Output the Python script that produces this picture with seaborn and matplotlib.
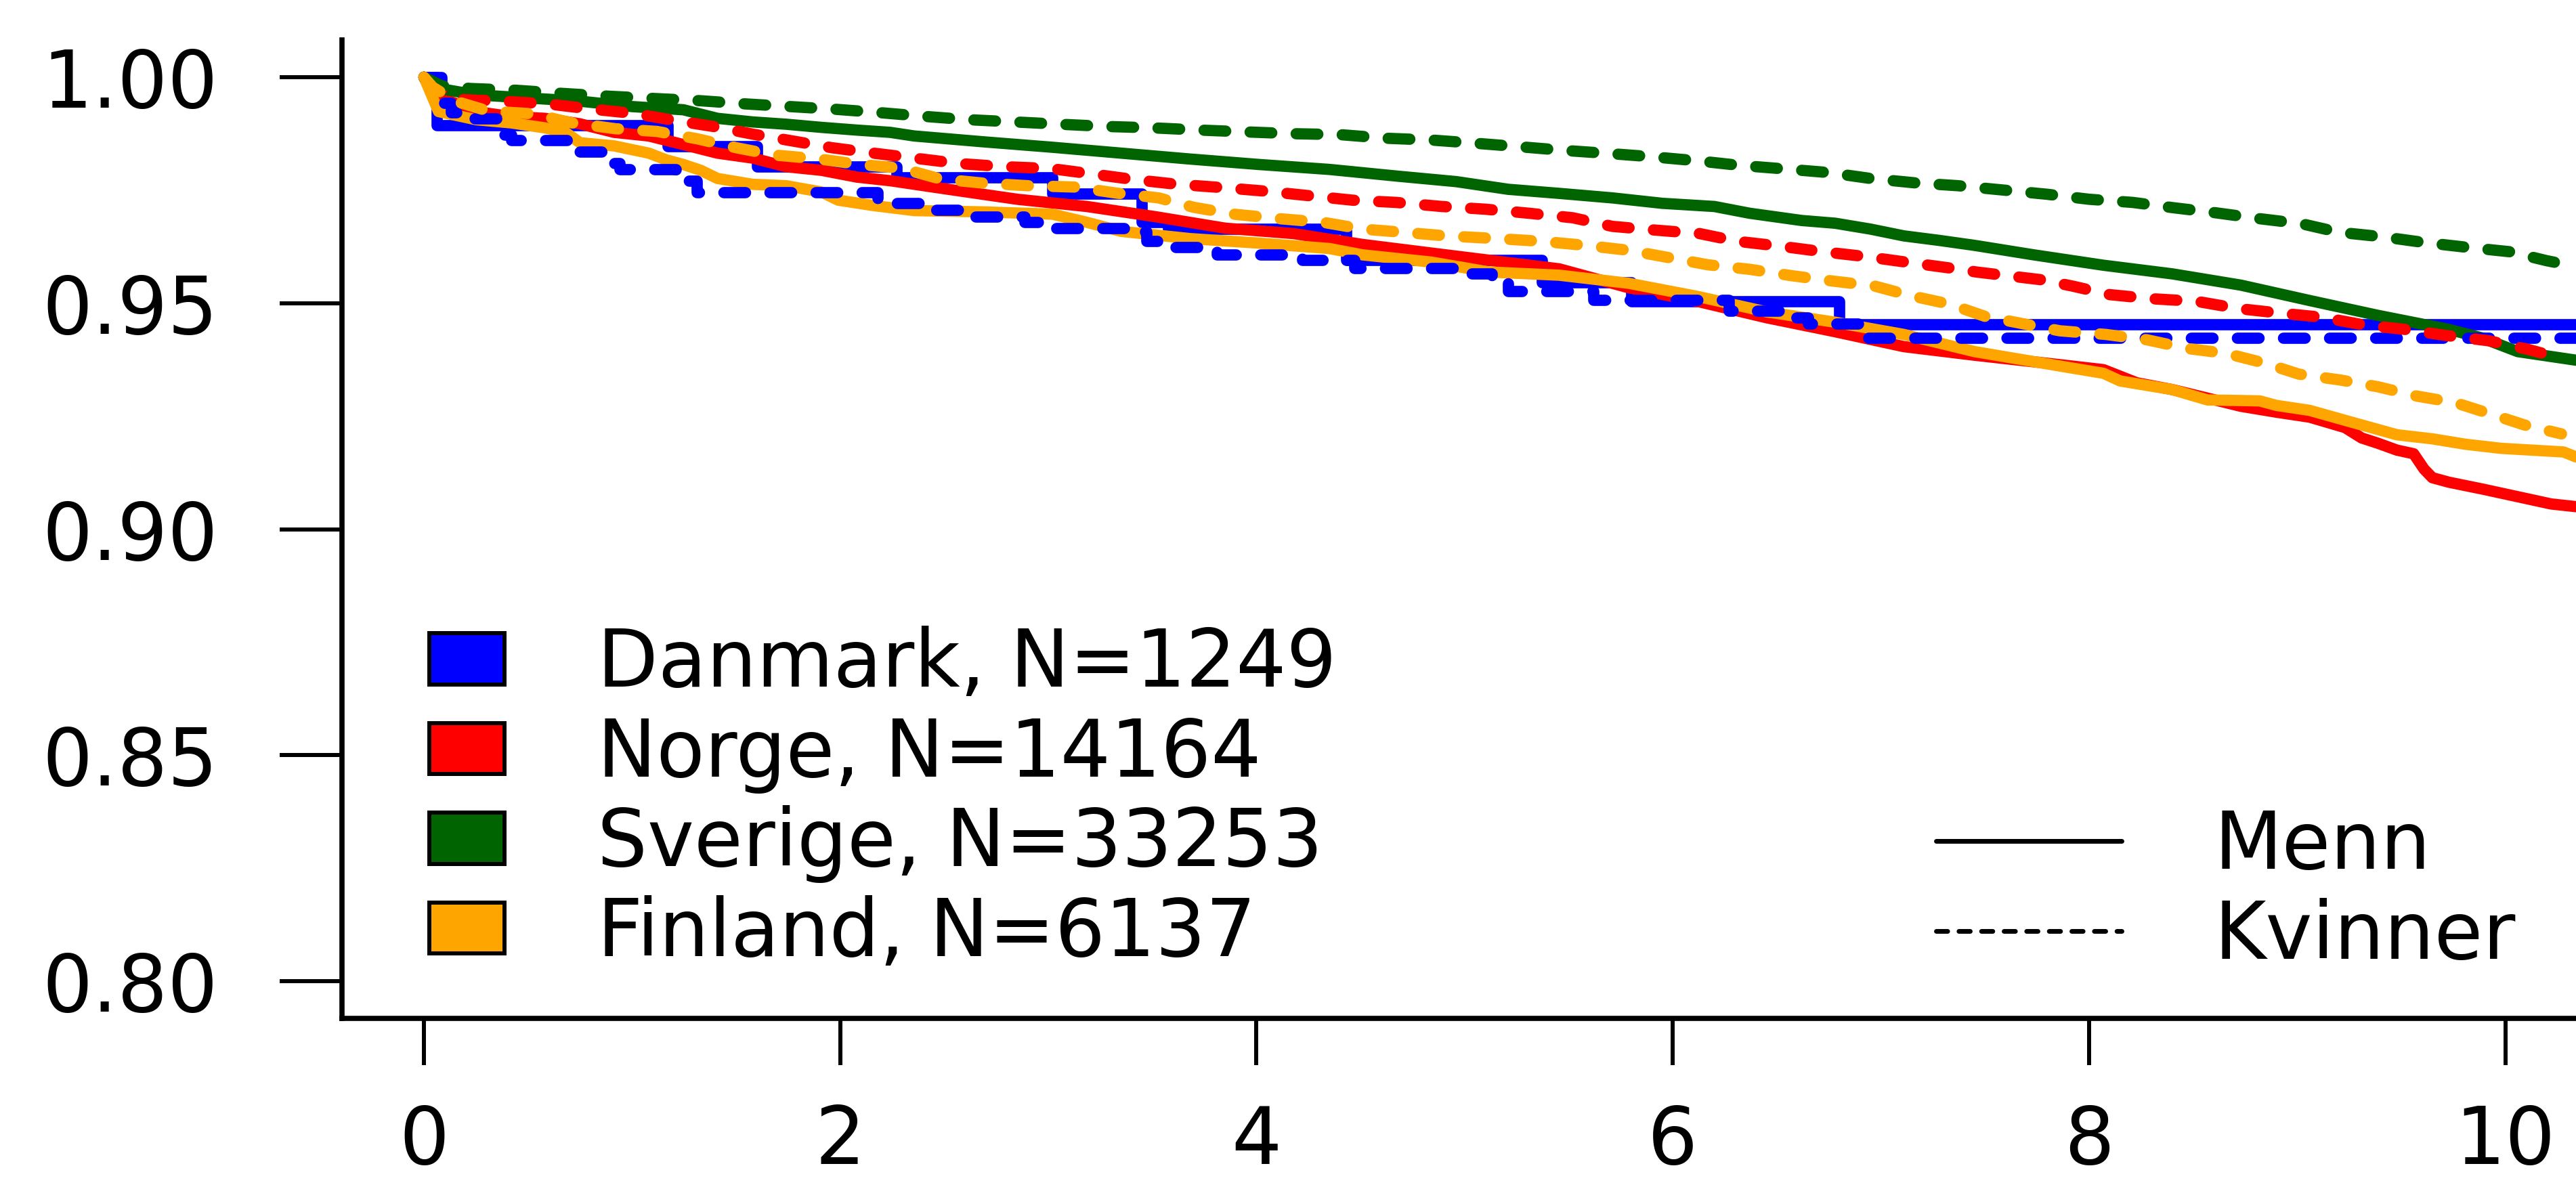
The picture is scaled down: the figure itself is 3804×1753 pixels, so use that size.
import pandas as pd
import matplotlib.pyplot as plt
import seaborn as sns
from matplotlib.patches import Patch
from matplotlib.lines import Line2D

# Kaplan-Meier style survival curves
danmark_m_t = [0, .06, 1.17, 1.60, 2.27, 3.02, 3.45, 3.575, 4.43, 5.37, 5.80, 6.80, 10.34]
danmark_m_s = [1.0, .9894, .9847, .9802, .9779, .9743, .9679, .9664, .9595, .9546, .9504, .9454, .9454]

danmark_k_t = [0, .085, .13, .23, .37, .42, .69, .855, .94, 1.21, 1.31, 2.18, 2.42, 2.62, 2.885, 3.0,
               3.38, 3.47, 3.60, 3.81, 4.22, 4.47, 4.99, 5.13, 5.21, 5.62, 6.27, 6.59, 6.65, 6.93, 10.34]
danmark_k_s = [1.0, .9943, .9922, .9909, .9873, .9861, .9836, .9810, .9796, .9771, .9746, .9721, .9706, .9692,
               .9679, .9666, .9659, .9637, .9624, .9608, .9595, .9578, .9565, .9547, .9527, .9507, .9484,
               .9469, .9455, .9423, .9423]

norge_m_t = [0, .085, .25, .417, .58, .748, .914, 1.08, 1.246, 1.41, 1.58, 1.74, 1.91, 2.08, 2.24, 2.52,
             2.85, 3.185, 3.52, 3.85, 4.18, 4.51, 4.84, 5.12, 5.455, 5.79, 6.12, 6.45, 6.78, 7.11, 7.45,
             7.90, 8.07, 8.23, 8.40, 8.57, 8.73, 8.90, 9.06, 9.23, 9.31, 9.39, 9.48, 9.56, 9.61, 9.65,
             9.73, 9.89, 10.06, 10.22, 10.34]
norge_m_s = [1.0, .9954, .9924, .9913, .9909, .9897, .9878, .9870, .9851, .9832, .9821, .9802, .9794, .9779,
             .9771, .9752, .9730, .9714, .9691, .9666, .9654, .9630, .9611, .9595, .9576, .9534, .9504,
             .9468, .9437, .9404, .9385, .9362, .9353, .9324, .9309, .9290, .9272, .9259, .9248, .9225,
             .9202, .9190, .9175, .9167, .9133, .9114, .9104, .9089, .9072, .9056, .9050]

norge_k_t = [0, .163, .374, .594, .795, 1.006, 1.196, 1.39, 1.58, 1.77, 1.96, 2.16, 2.57, 2.79, 3.01, 3.21,
             3.42, 3.62, 3.83, 4.04, 4.25, 4.46, 4.67, 4.89, 5.10, 5.31, 5.52, 5.71, 5.91, 6.13, 6.31,
             6.52, 6.72, 6.93, 7.12, 7.33, 7.46, 7.77, 7.92, 8.10, 8.30, 8.52, 8.72, 8.92, 9.12, 9.32,
             9.52, 9.71, 9.92, 10.10, 10.28]
norge_k_s = [1.0, .9951, .9947, .9941, .9930, .9920, .9905, .9891, .9874, .9859, .9844, .9832, .9809, .9802,
             .9798, .9786, .9773, .9763, .9756, .9748, .9738, .9728, .9723, .9714, .9708, .9699, .9689,
             .9670, .9662, .9654, .9637, .9626, .9614, .9603, .9591, .9578, .9569, .9552, .9538, .9519,
             .9510, .9504, .9488, .9478, .9469, .9452, .9442, .9429, .9417, .9399, .9377]

sverige_m_t = [0, .085, .25, .50, .748, 1.0, 1.246, 1.41, 1.58, 1.74, 1.91, 2.08, 2.24, 2.355, 2.69, 3.02,
               3.35, 3.68, 4.01, 4.35, 4.68, 4.96, 5.21, 5.455, 5.71, 5.95, 6.20, 6.37, 6.62, 6.78, 6.95,
               7.11, 7.28, 7.45, 7.735, 8.07, 8.40, 8.73, 9.06, 9.39, 9.73, 9.89, 10.06, 10.34]
sverige_m_s = [1.0, .9974, .9961, .9954, .9947, .9935, .9928, .9909, .9901, .9896, .9889, .9883, .9878,
               .9870, .9857, .9845, .9832, .9819, .9807, .9796, .9781, .9769, .9752, .9743, .9733, .9721,
               .9714, .9699, .9683, .9677, .9664, .9649, .9639, .9628, .9607, .9584, .9565, .9540, .9506,
               .9473, .9442, .9423, .9393, .9374]

sverige_k_t = [0, .085, .224, .446, .670, .885, 1.10, 1.327, 1.542, 1.76, 1.978, 2.18, 2.414, 2.616, 2.84,
               3.055, 3.28, 3.50, 3.73, 3.95, 4.18, 4.40, 4.62, 4.84, 5.05, 5.27, 5.48, 5.70, 5.90, 6.12,
               6.32, 6.54, 6.75, 6.95, 7.17, 7.37, 7.80, 8.00, 8.21, 8.41, 8.61, 8.82, 9.02, 9.20, 9.41,
               9.60, 9.81, 10.02, 10.20, 10.31]
sverige_k_s = [1.0, .9981, .9975, .9971, .9964, .9958, .9953, .9948, .9941, .9935, .9929, .9922, .9913,
               .9906, .9901, .9896, .9891, .9888, .9883, .9879, .9875, .9873, .9865, .9861, .9854, .9846,
               .9838, .9831, .9824, .9815, .9805, .9797, .9789, .9776, .9766, .9760, .9741, .9730, .9723,
               .9711, .9700, .9687, .9676, .9657, .9647, .9635, .9624, .9614, .9594, .9584]

finland_m_t = [0, .07, .17, .25, .417, .58, .68, .75, .914, 1.08, 1.165, 1.246, 1.33, 1.41, 1.58, 1.74,
               1.91, 1.99, 2.16, 2.355, 2.69, 3.02, 3.185, 3.35, 3.68, 4.01, 4.35, 4.51, 4.84, 5.12, 5.455,
               5.79, 6.12, 6.45, 6.78, 7.11, 7.45, 7.90, 8.07, 8.15, 8.40, 8.57, 8.82, 8.90, 9.06, 9.23,
               9.48, 9.65, 9.81, 9.98, 10.28, 10.34]
finland_m_s = [1.0, .9924, .9914, .9906, .9899, .9888, .9878, .9855, .9848, .9832, .9817, .9807, .9794,
               .9776, .9763, .9760, .9746, .9728, .9716, .9705, .9702, .9697, .9679, .9659, .9643, .9633,
               .9621, .9607, .9591, .9569, .9562, .9544, .9515, .9481, .9458, .9431, .9393, .9358, .9345,
               .9328, .9309, .9286, .9284, .9274, .9263, .9241, .9209, .9200, .9188, .9179, .9171, .9160]

finland_k_t = [0, .042, .15, .31, .525, .71, .92, 1.12, 1.31, 1.50, 1.68, 1.90, 2.09, 2.29, 2.48, 2.68,
               2.90, 3.13, 3.32, 3.53, 3.70, 3.89, 4.11, 4.32, 4.51, 4.73, 4.91, 5.156, 5.37, 5.58, 5.79,
               5.98, 6.17, 6.37, 6.57, 6.77, 6.97, 7.14, 7.33, 7.50, 7.735, 7.86, 8.08, 8.28, 8.47, 8.66,
               8.84, 9.01, 9.21, 9.39, 9.57, 9.76, 9.93, 10.09, 10.27]
finland_k_s = [1.0, .9978, .9947, .9925, .9919, .9899, .9886, .9880, .9864, .9844, .9828, .9819, .9807,
               .9799, .9775, .9766, .9760, .9757, .9744, .9733, .9712, .9697, .9687, .9679, .9664, .9656,
               .9649, .9643, .9637, .9628, .9617, .9601, .9585, .9575, .9561, .9549, .9538, .9517, .9498,
               .9471, .9450, .9439, .9431, .9419, .9400, .9389, .9368, .9343, .9330, .9315, .9295, .9280,
               .9255, .9231, .9211]

countries = ['Danmark', 'Norge', 'Sverige', 'Finland']
country_n = [1249, 14164, 33253, 6137]
colors = ['#0000FF', '#FF0000', '#006400', '#FFA500']
sexes = ['Menn', 'Kvinner']

curves = {
    ('Danmark', 'Menn'): (danmark_m_t, danmark_m_s),
    ('Norge', 'Menn'): (norge_m_t, norge_m_s),
    ('Sverige', 'Menn'): (sverige_m_t, sverige_m_s),
    ('Finland', 'Menn'): (finland_m_t, finland_m_s),
    ('Danmark', 'Kvinner'): (danmark_k_t, danmark_k_s),
    ('Norge', 'Kvinner'): (norge_k_t, norge_k_s),
    ('Sverige', 'Kvinner'): (sverige_k_t, sverige_k_s),
    ('Finland', 'Kvinner'): (finland_k_t, finland_k_s),
}

sns.set_style('ticks')
plt.rcParams['font.family'] = ['DejaVu Sans']
plt.rcParams['text.color'] = 'black'

W, H = 3804, 1753
fig = plt.figure(figsize=(W / 100, H / 100), dpi=100)
ax = fig.add_axes([505 / W, 249 / H, 1 - 505 / W, (1504 - 59) / H])

# line width in points; dashes given in absolute points so they do not depend on it
lw_curve = 12
dash = (0, (23, 26))
for (land, kjonn), (t, s) in curves.items():
    df = pd.DataFrame({'tid': t, 'overlevelse': s})
    c = colors[countries.index(land)]
    # Danmark has few events, so its steps are visible; the rest are dense
    step = 'steps-post' if land == 'Danmark' else 'default'
    sns.lineplot(data=df, x='tid', y='overlevelse', ax=ax, color=c,
                 drawstyle=step, estimator=None, sort=False, legend=False)
    ln = ax.get_lines()[-1]
    ln.set_linewidth(lw_curve)
    ln.set_solid_capstyle('round')
    ln.set_dash_capstyle('round')
    ln.set_solid_joinstyle('round')
    ln.set_dash_joinstyle('round')
    if kjonn == 'Kvinner':
        ln.set_dashes([d / lw_curve for d in dash[1]])

ax.set_xlim(-0.394, 10.34)
ax.set_ylim(0.7918, 1.00824)
ax.set_xticks([0, 2, 4, 6, 8, 10])
ax.set_xticklabels(['0', '2', '4', '6', '8', '10'])
ax.set_yticks([0.80, 0.85, 0.90, 0.95, 1.00])
ax.set_yticklabels(['0.80', '0.85', '0.90', '0.95', '1.00'])
ax.set_xlabel('')
ax.set_ylabel('')

for side in ['top', 'right']:
    ax.spines[side].set_visible(False)
for side in ['left', 'bottom']:
    ax.spines[side].set_linewidth(5.5)
    ax.spines[side].set_color('black')

ax.tick_params(axis='y', left=True, length=66, width=4.3, pad=66, labelsize=84,
               color='black', labelcolor='black', direction='out')
ax.tick_params(axis='x', bottom=True, length=50, width=4.3, pad=40, labelsize=84,
               color='black', labelcolor='black', direction='out')

land_handles = [Patch(facecolor=c, edgecolor='black', linewidth=4.3) for c in colors]
land_labels = [f'{l}, N={n}' for l, n in zip(countries, country_n)]
leg1 = fig.legend(land_handles, land_labels, loc='upper left',
                  bbox_to_anchor=(634 / W, 1 - 924 / H), frameon=False, fontsize=84,
                  handlelength=0.95, handleheight=0.62, handletextpad=1.18,
                  labelspacing=0.15, borderpad=0, borderaxespad=0, labelcolor='black')

sex_handles = [Line2D([], [], color='black', lw=5, linestyle='-'),
               Line2D([], [], color='black', lw=5, linestyle=(0, (2.4, 2.4)), dash_capstyle='round')]
leg2 = fig.legend(sex_handles, sexes, loc='upper left',
                  bbox_to_anchor=(2859 / W, 1 - 1193 / H), frameon=False, fontsize=84,
                  handlelength=2.35, handletextpad=1.17, labelspacing=0.15,
                  borderpad=0, borderaxespad=0, labelcolor='black')

fig.savefig('out.png', dpi=100)
